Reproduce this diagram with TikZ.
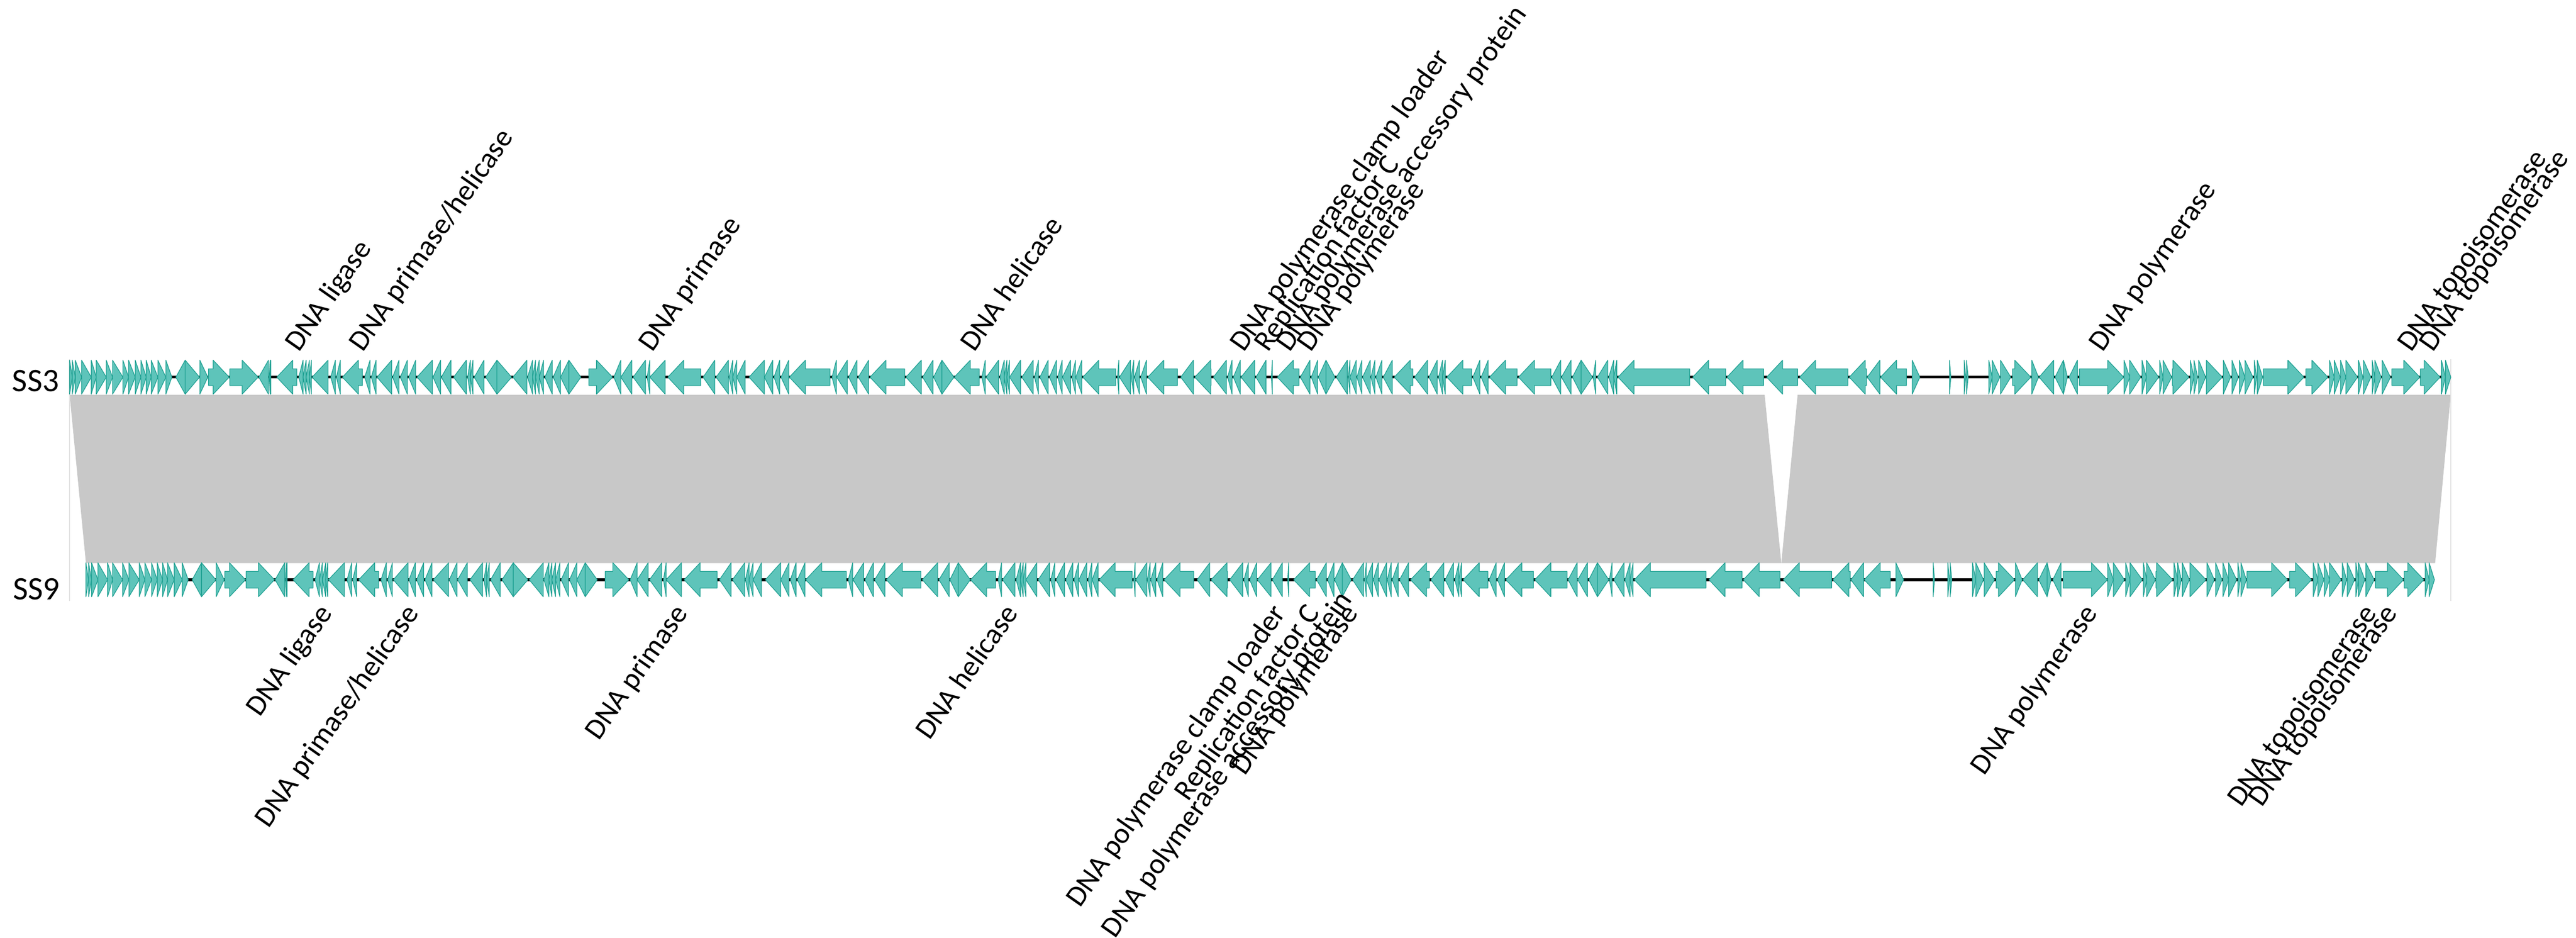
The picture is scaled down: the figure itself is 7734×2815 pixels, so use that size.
\documentclass[tikz,border=0pt]{standalone}
\usepackage{fontspec}
\setmainfont{Carlito}
\definecolor{genefill}{RGB}{94,196,186}
\definecolor{geneedge}{RGB}{30,160,146}
\definecolor{hitgray}{RGB}{200,200,200}
\definecolor{framegray}{RGB}{228,228,228}
\tikzset{
  genebox/.style={fill=genefill,draw=geneedge,line width=0.2mm},
  backbone/.style={line width=0.8mm,black},
  toplab/.style={anchor=base west,rotate=55,inner sep=0pt,font=\fontsize{25pt}{30pt}\selectfont},
  botlab/.style={anchor=base east,rotate=55,inner sep=0pt,font=\fontsize{25pt}{30pt}\selectfont},
  tracklab/.style={anchor=base east,inner sep=0pt,font=\fontsize{28pt}{34pt}\selectfont}
}
% one gene: start, end, direction (1 or -1), centre line
\newcommand{\genearrow}[4]{%
  \pgfmathsetmacro{\ghead}{min(#2-#1,48)}%
  \pgfmathsetmacro{\gtop}{#4-51}\pgfmathsetmacro{\gbot}{#4+51}%
  \pgfmathsetmacro{\btop}{#4-25}\pgfmathsetmacro{\bbot}{#4+25}%
  \ifnum#3>0
    \pgfmathsetmacro{\gneck}{#2-\ghead}%
    \draw[genebox] (#1,\btop) -- (\gneck,\btop) -- (\gneck,\gtop) -- (#2,#4) -- (\gneck,\gbot) -- (\gneck,\bbot) -- (#1,\bbot) -- cycle;
  \else
    \pgfmathsetmacro{\gneck}{#1+\ghead}%
    \draw[genebox] (#2,\btop) -- (\gneck,\btop) -- (\gneck,\gtop) -- (#1,#4) -- (\gneck,\gbot) -- (\gneck,\bbot) -- (#2,\bbot) -- cycle;
  \fi}
% genes of SS3 (start/end/direction)
\def\genelist{209/217/1,217/226/1,226/245/1,245/274/1,274/289/1,289/319/1,319/338/1,338/369/1,
369/386/1,386/406/1,406/423/1,423/439/1,439/454/1,454/474/1,474/498/1,498/516/1,
528/556/-1,556/599/1,600/624/1,626/688/1,690/775/1,777/806/-1,808/811/-1,811/813/-1,
831/891/-1,897/910/-1,910/919/-1,919/929/-1,929/935/-1,937/985/-1,993/1007/-1,1010/1022/-1,
1028/1088/-1,1095/1111/-1,1115/1129/-1,1132/1176/-1,1179/1198/-1,1202/1223/-1,1227/1248/-1,
1252/1298/-1,1300/1323/-1,1325/1354/-1,1362/1400/-1,1404/1412/-1,1412/1420/-1,1424/1453/-1,
1458/1492/-1,1492/1536/1,1540/1582/-1,1584/1599/-1,1599/1608/-1,1608/1619/-1,1619/1632/-1,
1636/1658/-1,1661/1683/-1,1683/1708/-1,1708/1744/1,1768/1839/1,1843/1864/-1,1864/1897/-1,
1901/1938/-1,1943/1951/-1,1951/1997/-1,2005/2104/-1,2111/2146/-1,2150/2187/-1,2189/2200/-1,
2200/2212/-1,2212/2237/-1,2249/2295/-1,2295/2320/-1,2324/2341/-1,2345/2368/-1,2370/2492/-1,
2498/2511/-1,2512/2544/-1,2548/2573/-1,2577/2608/-1,
2612/2716/-1,2720/2766/-1,2770/2801/-1,2803/2828/-1,2828/2864/1,2865/2940/-1,2948/2958/-1,
2961/2998/-1,3002/3015/-1,3015/3023/-1,3023/3031/-1,3031/3064/-1,3068/3102/-1,3106/3118/-1,
3122/3147/-1,3151/3172/-1,3176/3189/-1,3190/3214/-1,3218/3229/-1,3230/3248/-1,3251/3350/-1,
3355/3359/-1,3361/3394/-1,3396/3404/-1,3406/3421/-1,3425/3442/-1,3446/3535/-1,3545/3583/-1,
3587/3636/-1,3643/3682/-1,3686/3699/-1,3703/3724/-1,3726/3767/-1,3771/3801/-1,3817/3820/-1,
3835/3900/-1,
3904/3933/-1,3937/3956/-1,3958/3981/-1,3981/4008/1,4012/4045/-1,4048/4053/-1,4053/4072/-1,
4074/4089/-1,4091/4114/-1,4116/4128/-1,4131/4149/-1,4153/4180/-1,4186/4242/-1,4247/4286/-1,
4290/4315/-1,4319/4331/-1,4331/4339/-1,4344/4418/-1,4422/4443/-1,4447/4468/-1,4472/4555/-1,
4559/4656/-1,4659/4686/-1,4688/4717/-1,4721/4747/-1,4747/4781/1,4783/4791/-1,4796/4827/-1,
4830/4845/-1,4845/4854/-1,4858/5073/-1,5082/5181/-1,5185/5295/-1,
5304/5397/-1,5403/5548/-1,5552/5604/-1,5606/5644/-1,5646/5724/-1,5741/5764/1,5853/5857/1,
5897/5902/1,5904/5909/1,5971/5981/1,5981/6004/1,6006/6037/1,6042/6097/1,6100/6120/1,
6122/6166/-1,6170/6195/-1,6195/6207/1,6212/6237/-1,6243/6376/1,6377/6394/1,6394/6427/1,
6431/6444/1,6444/6481/1,6484/6494/1,
6494/6520/1,6522/6572/1,6576/6587/1,6587/6598/1,6601/6622/1,6624/6672/1,6675/6697/1,
6701/6720/1,6723/6740/1,6740/6764/1,6768/6775/1,6777/6793/1,6795/6917/1,6923/6989/1,
6994/7008/1,7008/7026/1,7027/7043/1,7043/7078/1,7081/7094/1,7096/7118/1,7122/7130/1,
7130/7149/1,7152/7177/1,7181/7265/1,7267/7326/1,7330/7342/1,7342/7358/1}
\begin{document}
\begin{tikzpicture}[x=0.1mm,y=-0.1mm,line join=round]
\useasboundingbox (0,0) rectangle (7734,2815);
\coordinate (ss3a) at (209,1132);
\coordinate (ss3b) at (7358,1132);
\coordinate (ss9a) at (258,1740);
\coordinate (ss9b) at (7309,1740);
% homology blocks
\fill[hitgray] (209,1185) -- (5298,1185) -- (5348,1690) -- (258,1690) -- cycle;
\fill[hitgray] (5397,1185) -- (7358,1185) -- (7311,1690) -- (5348,1690) -- cycle;
\draw[framegray,line width=0.25mm] (209,1078) -- (209,1803) (7358,1078) -- (7358,1803);
\draw[backbone] (ss3a) -- (ss3b);
\draw[backbone] (ss9a) -- (ss9b);
\foreach \s/\e/\d in \genelist {
  \genearrow{\s}{\e}{\d}{1132}
  \pgfmathtruncatemacro{\side}{(\e<5300) ? 1 : ((\s>5390) ? 2 : 0)}
  \ifnum\side=1 \pgfmathsetmacro{\sn}{\s+49}\pgfmathsetmacro{\en}{\e+49}\genearrow{\sn}{\en}{\d}{1740}\fi
  \ifnum\side=2 \pgfmathsetmacro{\sn}{\s-49}\pgfmathsetmacro{\en}{\e-49}\genearrow{\sn}{\en}{\d}{1740}\fi
}
\node[tracklab] (ss3lab) at (178,1175) {SS3};
\node[tracklab] (ss9lab) at (180,1800) {SS9};
\foreach \x/\t [count=\i] in {898/DNA ligase,1090/{DNA primase/helicase},1958/DNA primase,2925/DNA helicase,
  3734/DNA polymerase clamp loader,3807/Replication factor C,3872/DNA polymerase accessory protein,
  3936/DNA polymerase,6313/DNA polymerase,7240/DNA topoisomerase,7305/DNA topoisomerase}
  \node[toplab] (top\i) at (\x,1060) {\t};
\foreach \x/\y/\t [count=\i] in {1000/1840/DNA ligase,1260/1840/{DNA primase/helicase},2068/1840/DNA primase,
  3060/1840/DNA helicase,3863/1840/DNA polymerase clamp loader,3965/1840/Replication factor C,
  4062/1800/DNA polymerase accessory protein,4080/1840/DNA polymerase,6300/1840/DNA polymerase,
  7138/1840/DNA topoisomerase,7200/1840/DNA topoisomerase}
  \node[botlab] (bot\i) at (\x,\y) {\t};
\end{tikzpicture}
\end{document}
